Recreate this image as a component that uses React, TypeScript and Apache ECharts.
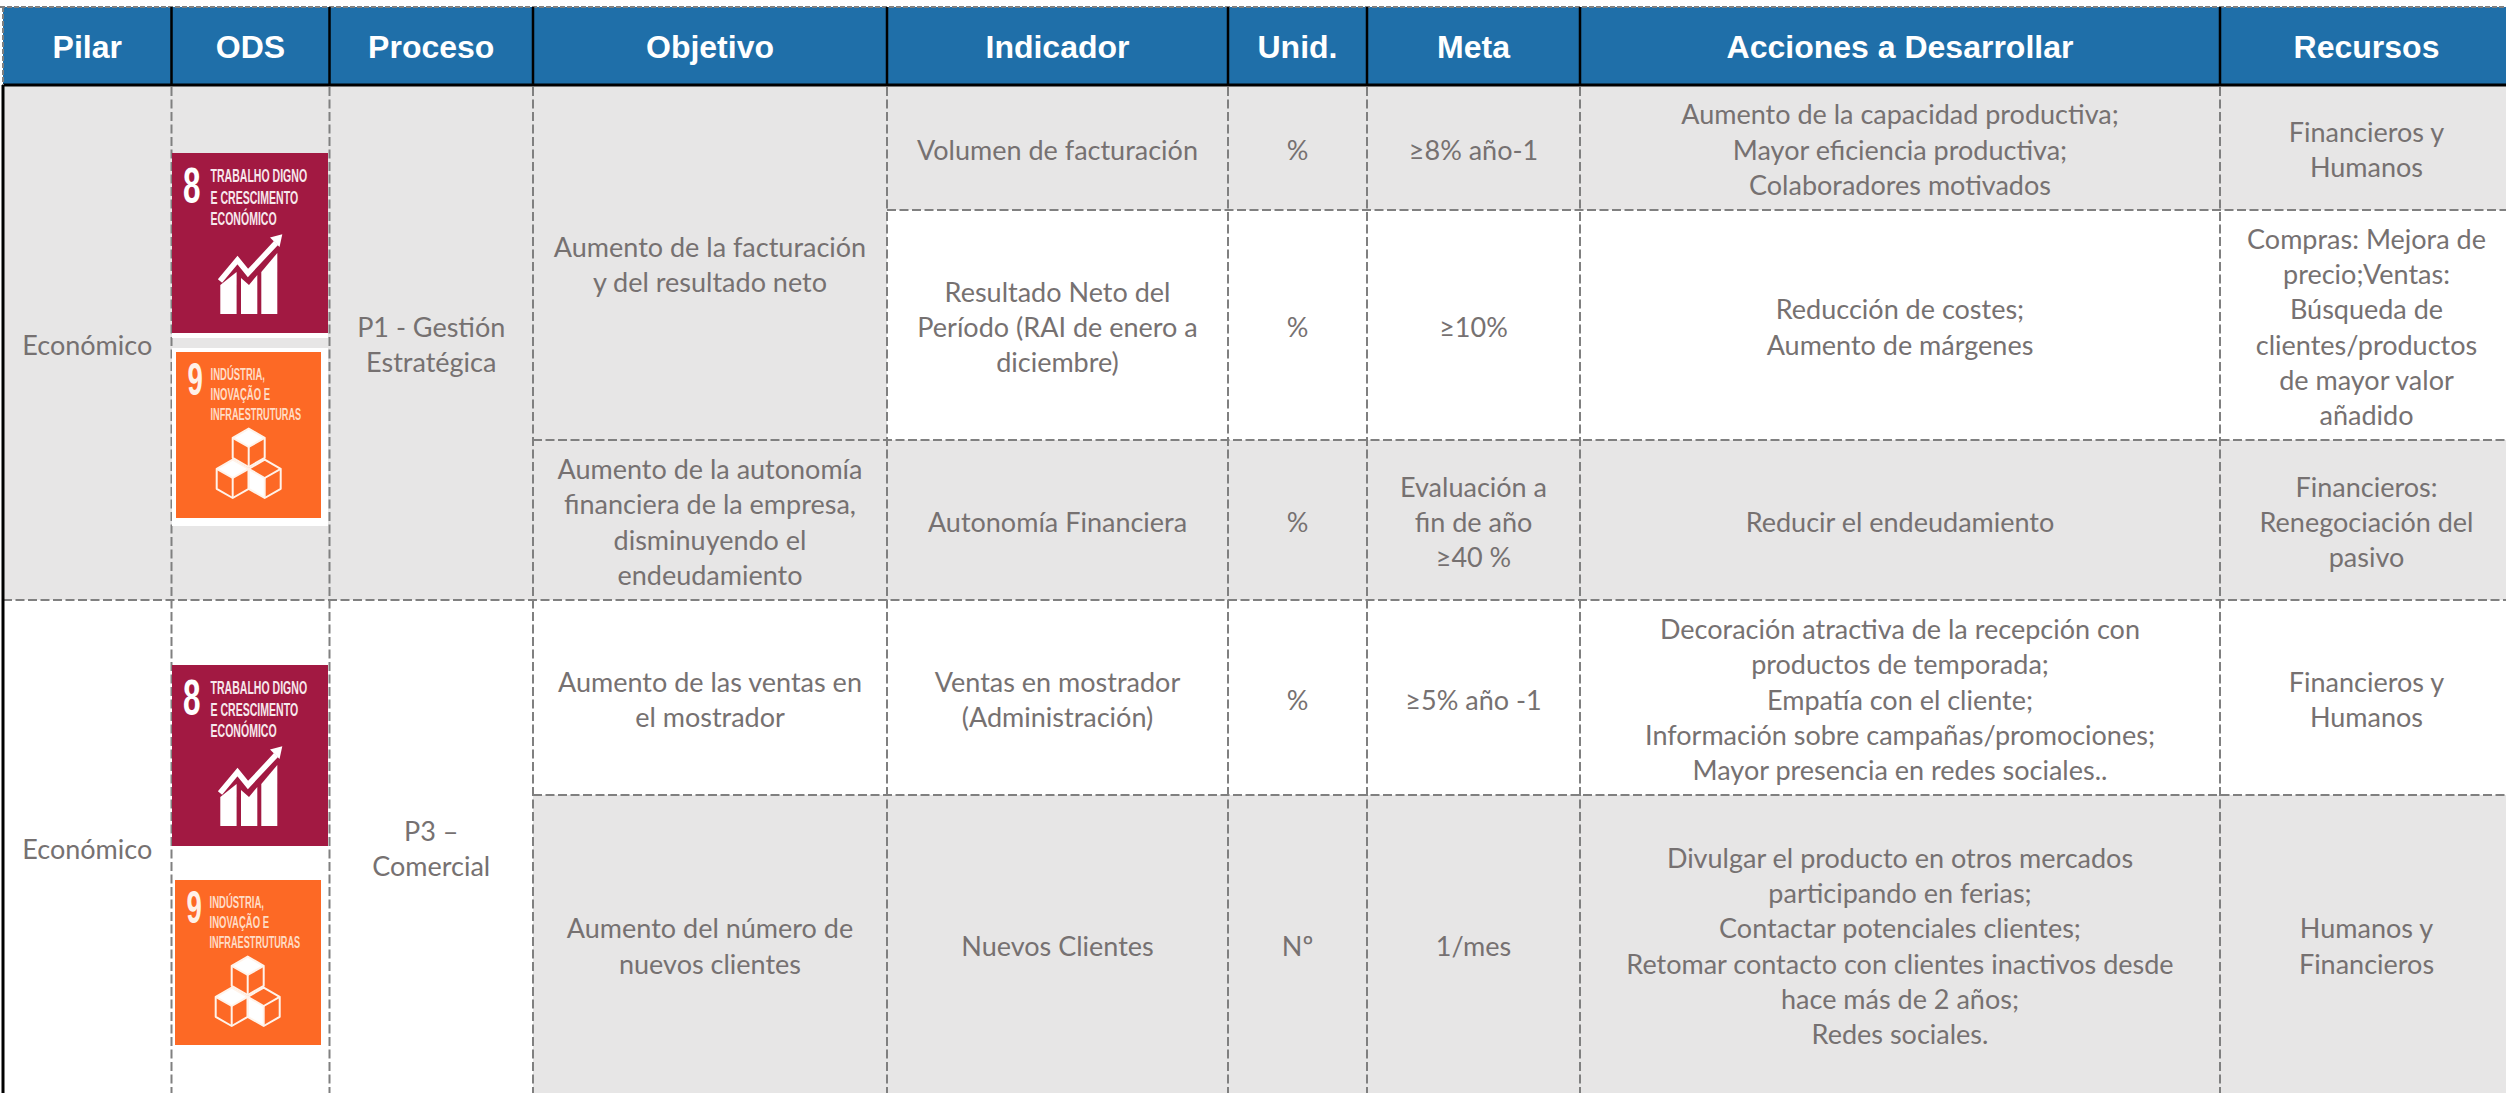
import React, { useEffect, useRef } from "react";
import * as echarts from "echarts";

const headers = ["Pilar", "ODS", "Proceso", "Objetivo", "Indicador", "Unid.", "Meta", "Acciones a Desarrollar", "Recursos"];
const pilares = [["Económico"], ["Económico"]];
const procesos = [["P1 - Gestión", "Estratégica"], ["P3 –", "Comercial"]];
const objetivos = [
  ["Aumento de la facturación", "y del resultado neto"],
  ["Aumento de la autonomía", "financiera de la empresa,", "disminuyendo el", "endeudamiento"],
  ["Aumento de las ventas en", "el mostrador"],
  ["Aumento del número de", "nuevos clientes"],
];
const indicadores = [
  ["Volumen de facturación"],
  ["Resultado Neto del", "Período (RAI de enero a", "diciembre)"],
  ["Autonomía Financiera"],
  ["Ventas en mostrador", "(Administración)"],
  ["Nuevos Clientes"],
];
const unidades = ["%", "%", "%", "%", "Nº"];
const metas = [["≥8% año-1"], ["≥10%"], ["Evaluación a", "fin de año", "≥40 %"], ["≥5% año -1"], ["1/mes"]];
const acciones = [
  ["Aumento de la capacidad productiva;", "Mayor eficiencia productiva;", "Colaboradores motivados"],
  ["Reducción de costes;", "Aumento de márgenes"],
  ["Reducir el endeudamiento"],
  ["Decoración atractiva de la recepción con", "productos de temporada;", "Empatía con el cliente;", "Información sobre campañas/promociones;", "Mayor presencia en redes sociales.."],
  ["Divulgar el producto en otros mercados", "participando en ferias;", "Contactar potenciales clientes;", "Retomar contacto con clientes inactivos desde", "hace más de 2 años;", "Redes sociales."],
];
const recursos = [
  ["Financieros y", "Humanos"],
  ["Compras: Mejora de", "precio;Ventas:", "Búsqueda de", "clientes/productos", "de mayor valor", "añadido"],
  ["Financieros:", "Renegociación del", "pasivo"],
  ["Financieros y", "Humanos"],
  ["Humanos y", "Financieros"],
];
const ods8Lines = ["TRABALHO DIGNO", "E CRESCIMENTO", "ECONÓMICO"];
const ods9Lines = ["INDÚSTRIA,", "INOVAÇÃO E", "INFRAESTRUTURAS"];

// layout
const W = 2506, H = 1093;
const COL = [3, 171.5, 329.5, 533, 887, 1228, 1367, 1580, 2220, 2513];
const HEAD_TOP = 7, HEAD_BOT = 85;
const ROW = [85, 210, 440, 600, 795, 1093];
const GREY = "#E7E6E6", TXT = "#767171", BLUE = "#1F6FA9", DASH = "#808080";
const FONT = "Lato, Carlito, Calibri, sans-serif";
const FS = 27, LH = 35.2;

const mid = (a: number, b: number) => (a + b) / 2;

function cell(lines: string[], c0: number, c1: number, r0: number, r1: number) {
  return {
    type: "text", silent: true, z: 5,
    style: {
      text: lines.join("\n"), x: mid(COL[c0], COL[c1]), y: mid(ROW[r0], ROW[r1]) + 1.5,
      align: "center", verticalAlign: "middle", fill: TXT,
      fontFamily: FONT, fontSize: FS, lineHeight: LH,
    },
  };
}
const rect = (x0: number, y0: number, x1: number, y1: number, fill: string, z = 1) => ({
  type: "rect", silent: true, z, shape: { x: x0, y: y0, width: x1 - x0, height: y1 - y0 }, style: { fill },
});
const line = (x1: number, y1: number, x2: number, y2: number, stroke: string, lineWidth: number, dash?: number[], z = 3) => ({
  type: "line", silent: true, z, shape: { x1, y1, x2, y2 },
  style: { stroke, lineWidth, lineDash: dash, fill: null },
});
const small = (text: string, x: number, y: number, fs: number, sx: number, fill: string, bold = true) => ({
  type: "text", silent: true, z: 7, x, y, scaleX: sx,
  style: { text, x: 0, y: 0, align: "left", verticalAlign: "middle", fill, fontFamily: "Liberation Sans, Arial, sans-serif", fontWeight: bold ? "bold" : "normal", fontSize: fs },
});

// pictogram outlines, in the pixel space of the ODS tile artwork
const bars8 = [
  [[48.3, 161], [48.3, 132], [64.6, 119], [64.6, 161]],
  [[69, 161], [69, 125], [77, 132], [85.3, 122], [85.3, 161]],
  [[89.3, 161], [89.3, 119], [105.3, 100], [105.3, 161]],
];
const arrow8 = [[48, 128], [65.5, 107], [76, 120], [104, 90]];
const head8 = [[110.3, 81.3], [98, 84.6], [107.5, 94]];

function ods8(ox: number, oy: number, w: number, h: number, strip: boolean) {
  const els: any[] = [];
  if (strip) els.push(rect(ox, oy + h, ox + w, oy + h + 5, "#FFFFFF", 6));
  els.push(rect(ox, oy, ox + w, oy + h, "#A21942", 6));
  els.push(small("8", ox + 11, oy + 32.5, 50, 0.63, "#FFFFFF"));
  ods8Lines.forEach((t, i) => els.push(small(t, ox + 38.5, oy + 22.3 + i * 21.6, 18.5, 0.57, "#F7E8EC")));
  const g = { x: ox, y: oy };
  bars8.forEach((p) => els.push({ type: "polygon", silent: true, z: 7, ...g, shape: { points: p }, style: { fill: "#FFFFFF" } }));
  els.push({ type: "polyline", silent: true, z: 7, ...g, shape: { points: arrow8 }, style: { stroke: "#FFFFFF", lineWidth: 5.5, fill: null } });
  els.push({ type: "polygon", silent: true, z: 7, ...g, shape: { points: head8 }, style: { fill: "#FFFFFF" } });
  return els;
}

function cube(cx: number, cy: number, filled: "top" | "left") {
  const r = 16, s = 9.2, d = 20;
  const t = [cx, cy - s * 2], rr = [cx + r, cy - s], l = [cx - r, cy - s], c = [cx, cy];
  const b = [cx, cy + d], rb = [cx + r, cy - s + d], lb = [cx - r, cy - s + d];
  const face = filled === "top" ? [t, rr, c, l] : [l, c, b, lb];
  const st = { stroke: "#FFF3EA", lineWidth: 2, fill: null, lineJoin: "round" };
  return [
    { type: "polygon", silent: true, z: 7, shape: { points: face }, style: { fill: "#FFFFFF" } },
    { type: "polygon", silent: true, z: 7, shape: { points: [t, rr, rb, b, lb, l] }, style: st },
    { type: "polyline", silent: true, z: 7, shape: { points: [l, c, rr] }, style: st },
    { type: "polyline", silent: true, z: 7, shape: { points: [c, b] }, style: st },
  ];
}

function ods9(ox: number, oy: number, w: number, h: number, pad: boolean) {
  const els: any[] = [];
  if (pad) els.push(rect(172, oy - 4, 328, oy + h + 8, "#FFFFFF", 6));
  els.push(rect(ox, oy, ox + w, oy + h, "#FD6925", 6));
  els.push(small("9", ox + 11.5, oy + 27.5, 46, 0.6, "#FFF1E8"));
  ods9Lines.forEach((t, i) => els.push(small(t, ox + 34.5, oy + 22 + i * 20, 17, i === 2 ? 0.54 : 0.56, "#FFDCC6")));
  els.push(...cube(ox + 72.7, oy + 95, "top"));
  els.push(...cube(ox + 88.7, oy + 126, "left"));
  els.push(...cube(ox + 56.7, oy + 126, "top"));
  return els;
}

function buildGraphic() {
  const e: any[] = [];
  // backgrounds
  e.push(rect(0, 0, W, H, "#FFFFFF", 0));
  e.push(rect(COL[0], HEAD_TOP, W, HEAD_BOT, BLUE));
  e.push(rect(COL[0], ROW[0], COL[3], ROW[3], GREY));
  e.push(rect(COL[3], ROW[0], COL[4], ROW[3], GREY));
  e.push(rect(COL[4], ROW[0], W, ROW[1], GREY));
  e.push(rect(COL[4], ROW[2], W, ROW[3], GREY));
  e.push(rect(COL[3], ROW[4], W, ROW[5], GREY));

  // header
  headers.forEach((h, i) =>
    e.push({
      type: "text", silent: true, z: 5,
      style: {
        text: h, x: mid(COL[i], COL[i + 1]), y: mid(HEAD_TOP, HEAD_BOT) + 1,
        align: "center", verticalAlign: "middle", fill: "#FFFFFF",
        fontFamily: "Liberation Sans, Arial, sans-serif", fontWeight: "bold", fontSize: 32,
      },
    })
  );
  e.push(line(0, HEAD_TOP, W, HEAD_TOP, DASH, 2, [5, 2]));
  COL.slice(1, 9).forEach((x) => e.push(line(x, HEAD_TOP, x, HEAD_BOT, "#000000", 2.5, undefined, 4)));
  e.push(line(COL[0], HEAD_BOT, W, HEAD_BOT, "#000000", 3, undefined, 4));
  e.push(line(3, HEAD_TOP, 3, HEAD_BOT, DASH, 2, [5, 2], 4));
  e.push(line(3, HEAD_BOT, 3, H, "#000000", 3, undefined, 4));

  // body rules
  const dash = [9, 3.5];
  COL.slice(1, 9).forEach((x) => e.push(line(x, HEAD_BOT + 2, x, H, DASH, 2, dash)));
  e.push(line(COL[4], ROW[1], W, ROW[1], DASH, 2, dash));
  e.push(line(COL[3], ROW[2], W, ROW[2], DASH, 2, dash));
  e.push(line(COL[0], ROW[3], W, ROW[3], DASH, 2, dash));
  e.push(line(COL[3], ROW[4], W, ROW[4], DASH, 2, dash));

  // merged cells
  e.push(cell(pilares[0], 0, 1, 0, 3), cell(pilares[1], 0, 1, 3, 5));
  e.push(cell(procesos[0], 2, 3, 0, 3), cell(procesos[1], 2, 3, 3, 5));
  e.push(cell(objetivos[0], 3, 4, 0, 2), cell(objetivos[1], 3, 4, 2, 3), cell(objetivos[2], 3, 4, 3, 4), cell(objetivos[3], 3, 4, 4, 5));
  for (let r = 0; r < 5; r++) {
    e.push(cell(indicadores[r], 4, 5, r, r + 1));
    e.push(cell([unidades[r]], 5, 6, r, r + 1));
    e.push(cell(metas[r], 6, 7, r, r + 1));
    e.push(cell(acciones[r], 7, 8, r, r + 1));
    e.push(cell(recursos[r], 8, 9, r, r + 1));
  }

  // ODS tiles
  e.push(...ods8(172, 153, 156, 180, true));
  e.push(...ods9(176, 352, 145, 166, true));
  e.push(...ods8(172, 665, 156, 181, false));
  e.push(...ods9(175, 880, 146, 165, false));
  return e;
}

export default function App() {
  const ref = useRef<HTMLDivElement>(null);
  useEffect(() => {
    const chart = echarts.init(ref.current!, undefined, { renderer: "svg" });
    chart.setOption({ animation: false, backgroundColor: "#FFFFFF", graphic: { elements: buildGraphic() } });
    return () => chart.dispose();
  }, []);
  return <div ref={ref} style={{ position: "absolute", left: 0, top: 0, width: W, height: H }} />;
}
